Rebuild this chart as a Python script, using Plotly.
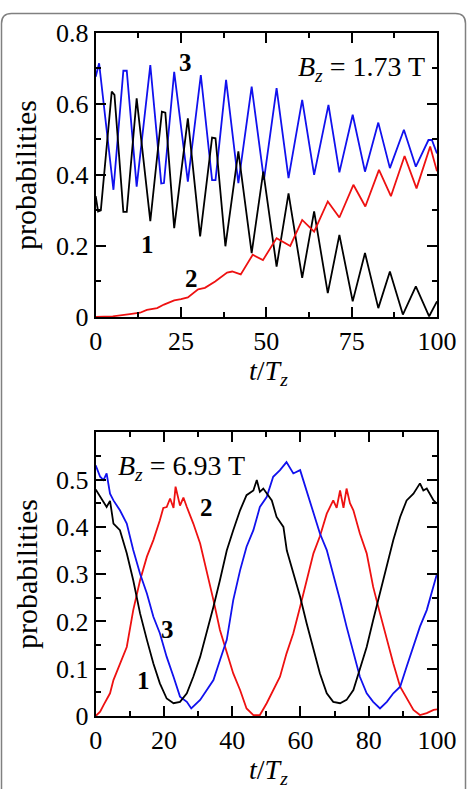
import plotly.graph_objects as go

W, H = 467, 789

# ---------------- top panel (Bz = 1.73 T) ----------------
top_t1 = [0, 0.7, 1.5, 4.7, 5.5, 8.1, 9.1, 12.0, 16, 19.4, 20.4, 23, 27.0, 30.6, 34.1, 35.1,
          38, 41.8, 45.7, 49.1, 53, 56.5, 60.5, 64.0, 68, 71.4, 75.3, 78.9, 82.8, 86.2, 90,
          93.8, 97.7, 100]
top_p1 = [0.34, 0.297, 0.30, 0.634, 0.625, 0.296, 0.296, 0.615, 0.27, 0.578, 0.575, 0.25,
          0.559, 0.227, 0.505, 0.503, 0.199, 0.466, 0.18, 0.409, 0.142, 0.348, 0.11, 0.297,
          0.067, 0.231, 0.044, 0.180, 0.025, 0.128, 0.007, 0.086, 0.002, 0.044]

top_t3 = [0, 1, 5.2, 8.1, 9.1, 12, 16, 19.2, 20.0, 23, 27, 30.8, 34.1, 35.1, 38.2, 41.8,
          45.7, 49.3, 53, 56.5, 60.5, 64, 68.2, 71.4, 75.3, 78.9, 82.8, 86.2, 90.3, 93.8,
          97.5, 98.5, 100]
top_p3 = [0.676, 0.714, 0.358, 0.693, 0.693, 0.367, 0.709, 0.376, 0.377, 0.69, 0.381, 0.681,
          0.385, 0.385, 0.667, 0.377, 0.648, 0.386, 0.644, 0.391, 0.611, 0.40, 0.597, 0.407,
          0.569, 0.409, 0.547, 0.419, 0.527, 0.423, 0.498, 0.498, 0.46]

top_t2 = [0, 5, 10, 13, 15, 18, 20, 23, 25, 27, 30, 32, 35, 38.5, 40, 42.5, 46, 49, 53, 57,
          60.5, 64, 68, 71.4, 75.5, 79, 83, 86.5, 90.5, 94, 98, 100]
top_p2 = [0, 0.002, 0.008, 0.012, 0.02, 0.025, 0.035, 0.047, 0.05, 0.055, 0.078, 0.082, 0.1,
          0.125, 0.128, 0.12, 0.175, 0.16, 0.222, 0.2, 0.273, 0.24, 0.325, 0.28, 0.372, 0.311,
          0.414, 0.34, 0.453, 0.362, 0.48, 0.41]

# ---------------- bottom panel (Bz = 6.93 T) ----------------
bot_t1 = [0, 1.3, 3.2, 4.2, 5.2, 7.1, 9.1, 11, 13, 15, 16.9, 18.8, 20.8, 22.8, 24.7, 26.7,
          28.6, 30.6, 32.5, 34.5, 36.4, 38.4, 40.3, 42.3, 44.2, 46.2, 47.2, 48.1, 49.1, 50.1,
          51.6, 53, 55, 56, 57.9, 59.9, 61.8, 63.8, 65.7, 67.7, 69.6, 71.6, 73.5, 75.5, 77.4,
          79.4, 81.3, 83.3, 85.3, 87.2, 89.2, 91.1, 93.1, 95, 96, 97, 99, 100]
bot_p1 = [0.479, 0.463, 0.442, 0.455, 0.407, 0.393, 0.344, 0.287, 0.217, 0.161, 0.111, 0.069,
          0.037, 0.027, 0.030, 0.048, 0.083, 0.125, 0.175, 0.231, 0.287, 0.35, 0.393, 0.435,
          0.467, 0.477, 0.499, 0.474, 0.481, 0.47, 0.456, 0.421, 0.4, 0.35, 0.301, 0.252,
          0.196, 0.139, 0.09, 0.048, 0.030, 0.027, 0.034, 0.055, 0.097, 0.146, 0.203, 0.259,
          0.315, 0.372, 0.421, 0.456, 0.47, 0.492, 0.477, 0.481, 0.456, 0.449]

bot_t3 = [0, 1.3, 2.3, 3.2, 4.2, 5.2, 7.1, 9.1, 11, 13, 15, 16.9, 18.8, 20.8, 22.8, 24.7,
          26.7, 28, 30.6, 32.5, 34.5, 36.4, 38.4, 40.3, 42.3, 44.2, 46.2, 48.1, 50.1, 52, 54,
          55.9, 57.9, 59.9, 61.8, 63.8, 65.7, 67.7, 69.6, 71.6, 73.5, 75.5, 77.4, 79.4, 81.3,
          83.3, 85.3, 87.2, 89.2, 91.1, 93.1, 95, 97, 99, 100]
bot_p3 = [0.53, 0.506, 0.499, 0.513, 0.47, 0.456, 0.435, 0.407, 0.351, 0.301, 0.259, 0.21,
          0.175, 0.125, 0.083, 0.041, 0.03, 0.016, 0.034, 0.055, 0.076, 0.118, 0.161, 0.245,
          0.308, 0.358, 0.393, 0.442, 0.463, 0.506, 0.52, 0.537, 0.513, 0.52, 0.477, 0.428,
          0.386, 0.351, 0.301, 0.245, 0.189, 0.132, 0.083, 0.048, 0.03, 0.016, 0.03, 0.048,
          0.062, 0.104, 0.146, 0.189, 0.224, 0.273, 0.301]

bot_t2 = [0, 1.3, 2.3, 4.2, 5.2, 7.1, 9.1, 11, 13, 15, 16.9, 18.8, 19.8, 20.8, 21.8, 22.8,
          23.4, 24.7, 25.7, 26.7, 28.6, 30.6, 32.5, 34.5, 36.4, 38.4, 40.3, 42.3, 44.2, 46.2,
          48.1, 50.1, 52, 54, 55.9, 57.9, 59.9, 61.8, 63.8, 65.7, 67.7, 69.6, 70.6, 71.6,
          72.6, 73.5, 74.5, 75.5, 77.4, 79.4, 81.3, 83.3, 85.3, 87.2, 89.2, 91.1, 93.1, 95,
          97, 99, 100]
bot_p2 = [0, 0.009, 0.023, 0.048, 0.076, 0.111, 0.146, 0.224, 0.287, 0.337, 0.372, 0.414,
          0.44, 0.442, 0.46, 0.44, 0.485, 0.445, 0.462, 0.442, 0.407, 0.365, 0.308, 0.245,
          0.182, 0.132, 0.09, 0.055, 0.016, 0.002, 0.002, 0.027, 0.055, 0.083, 0.132, 0.175,
          0.231, 0.287, 0.344, 0.38, 0.428, 0.456, 0.44, 0.477, 0.44, 0.481, 0.45, 0.435,
          0.386, 0.344, 0.273, 0.217, 0.161, 0.111, 0.062, 0.037, 0.013, 0.002, 0.006,
          0.013, 0.014]

BLACK, RED, BLUE = "#000000", "#ee1111", "#1111ee"
FONT = "Liberation Serif, Times New Roman, Times, serif"

fig = go.Figure()
for t, p, c, xa, ya in [
    (top_t3, top_p3, BLUE, "x", "y"),
    (top_t1, top_p1, BLACK, "x", "y"),
    (top_t2, top_p2, RED, "x", "y"),
    (bot_t2, bot_p2, RED, "x2", "y2"),
    (bot_t3, bot_p3, BLUE, "x2", "y2"),
    (bot_t1, bot_p1, BLACK, "x2", "y2"),
]:
    fig.add_trace(go.Scatter(x=t, y=p, mode="lines", line=dict(color=c, width=1.8),
                             xaxis=xa, yaxis=ya, showlegend=False, hoverinfo="skip"))

xdom = [95.7 / W, 437 / W]
def ydom(top_px, bot_px):
    return [1 - bot_px / H, 1 - top_px / H]

tickfont = dict(family=FONT, size=26, color="black")
common = dict(showline=True, linecolor="black", linewidth=2, mirror="allticks",
              ticks="inside", ticklen=10, tickwidth=1.5, tickcolor="black",
              showgrid=False, zeroline=False, tickfont=tickfont, automargin=False)
mk = lambda d: dict(dtick=d, ticks="inside", ticklen=5, tickwidth=1.5, tickcolor="black")

fig.update_layout(
    width=W, height=H, margin=dict(l=0, r=0, t=0, b=0),
    paper_bgcolor="white", plot_bgcolor="white",
    xaxis=dict(domain=xdom, anchor="y", range=[0, 100], tickvals=[0, 25, 50, 75, 100],
               minor=mk(12.5), **common),
    yaxis=dict(domain=ydom(32.7, 317), anchor="x", range=[0, 0.8],
               tickvals=[0, 0.2, 0.4, 0.6, 0.8], ticktext=["0", "0.2", "0.4", "0.6", "0.8"],
               minor=mk(0.1), **common),
    xaxis2=dict(domain=xdom, anchor="y2", range=[0, 100], tickvals=[0, 20, 40, 60, 80, 100],
                minor=mk(10), **common),
    yaxis2=dict(domain=ydom(432.3, 716), anchor="x2", range=[0, 0.6],
                tickvals=[0, 0.1, 0.2, 0.3, 0.4, 0.5],
                ticktext=["0", "0.1", "0.2", "0.3", "0.4", "0.5"],
                minor=mk(0.05), **common),
)

def px(x):
    return x / W
def py(y):
    return 1 - y / H

L, R, T, B, r = 1.5, 465.5, 13.5, 800, 10
path = (f"M {px(L)} {py(B)} L {px(L)} {py(T + r)} Q {px(L)} {py(T)} {px(L + r)} {py(T)} "
        f"L {px(R - r)} {py(T)} Q {px(R)} {py(T)} {px(R)} {py(T + r)} L {px(R)} {py(B)}")
fig.add_shape(type="path", path=path, xref="paper", yref="paper",
              line=dict(color="#808080", width=1.5))

ann = []
lab = dict(family=FONT, size=25, color="black")
big = dict(family=FONT, size=28, color="black")
for txt, x, y, xr, yr in [("3", 26.2, 0.715, "x", "y"), ("1", 15.3, 0.203, "x", "y"),
                          ("2", 28.2, 0.107, "x", "y"),
                          ("2", 32.6, 0.44, "x2", "y2"), ("3", 20.9, 0.182, "x2", "y2"),
                          ("1", 13.9, 0.076, "x2", "y2")]:
    ann.append(dict(text=f"<b>{txt}</b>", x=x, y=y, xref=xr, yref=yr, showarrow=False,
                    font=lab, xanchor="center", yanchor="middle"))
ann.append(dict(text="<i>B</i><sub><i>z</i></sub> = 1.73 T", x=97.2, y=0.70, xref="x", yref="y",
                showarrow=False, font=big, xanchor="right", yanchor="middle"))
ann.append(dict(text="<i>B</i><sub><i>z</i></sub> = 6.93 T", x=5.8, y=0.525, xref="x2", yref="y2",
                showarrow=False, font=big, xanchor="left", yanchor="middle"))
for yc in (175, 574):
    ann.append(dict(text="probabilities", x=px(26), y=py(yc), xref="paper", yref="paper",
                    showarrow=False, textangle=-90, font=dict(family=FONT, size=30, color="black"),
                    xanchor="center", yanchor="middle"))
for yc in (372, 771):
    ann.append(dict(text="<i>t</i>/<i>T</i><sub><i>z</i></sub>", x=px(268), y=py(yc),
                    xref="paper", yref="paper", showarrow=False, font=big,
                    xanchor="center", yanchor="middle"))
fig.update_layout(annotations=ann)

fig.write_html("out.html")
